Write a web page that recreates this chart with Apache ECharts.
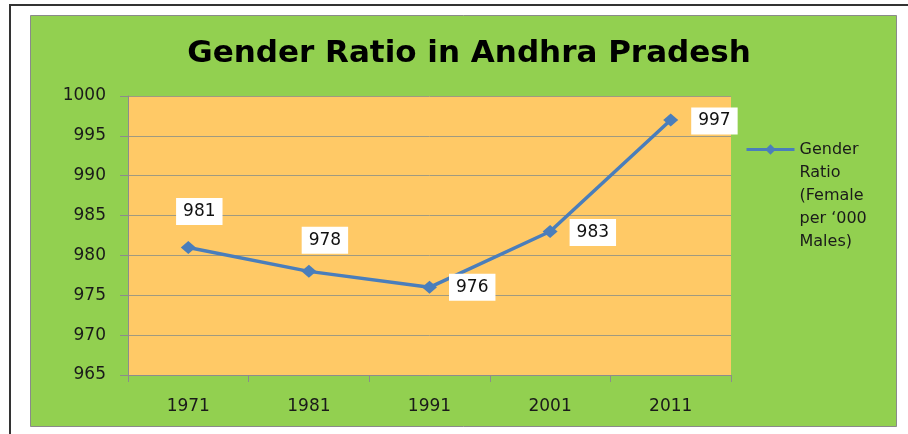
<!DOCTYPE html>
<html>
<head>
<meta charset="utf-8">
<script src="https://cdn.jsdelivr.net/npm/echarts@6/dist/echarts.min.js"></script>
<style>
  html, body { margin: 0; padding: 0; background: #fff; }
  #frame {
    position: absolute; left: 9px; top: 4px; width: 899px; height: 430px;
    border-left: 2px solid #333; border-top: 2px solid #333;
  }
  #chart { position: absolute; left: 0; top: 0; width: 908px; height: 434px; }
</style>
</head>
<body>
<div id="frame"></div>
<div id="chart"></div>
<script>
// census years and female per 1000 males
var years = ["1971", "1981", "1991", "2001", "2011"];
var ratio = [981, 978, 976, 983, 997];
var seriesName = "Gender Ratio (Female per \u2018000 Males)";

// where each value label sits relative to its point
var labelPos = ["top", "top", "right", "right", "right"];
var labelShift = [[11, -11], [16, -6], [7, 0], [7, 1], [8, 1]];

var chart = echarts.init(document.getElementById("chart"));

var points = ratio.map(function (v, i) {
  return {
    value: v,
    label: { position: labelPos[i], offset: labelShift[i] }
  };
});

var option = {
  backgroundColor: "transparent",
  animation: false,
  graphic: [{
    type: "rect",
    z: -10,
    shape: { x: 30.5, y: 15.5, width: 866, height: 411 },
    style: { fill: "#92D050", stroke: "#8a8a8a", lineWidth: 1 }
  }],
  title: {
    text: "Gender Ratio in Andhra Pradesh",
    left: 464,
    textAlign: "center",
    top: 33,
    textStyle: {
      fontFamily: "DejaVu Sans",
      fontWeight: "bold",
      fontSize: 31,
      color: "#000"
    }
  },
  legend: {
    left: 745,
    top: 46,
    padding: 0,
    orient: "vertical",
    itemWidth: 48,
    itemHeight: 13,
    itemGap: 0,
    lineStyle: { width: 3 },
    formatter: function () {
      // blank lines on top keep the icon level with the first line
      return "\n\n\n\nGender\nRatio\n(Female\nper \u2018000\nMales)";
    },
    textStyle: {
      fontFamily: "DejaVu Sans",
      fontSize: 16,
      lineHeight: 23,
      color: "#1a1a1a"
    },
    data: [seriesName]
  },
  grid: {
    left: 128,
    right: 177,
    top: 96,
    bottom: 59,
    show: true,
    backgroundColor: "#FFC966",
    borderWidth: 0
  },
  xAxis: {
    type: "category",
    data: years,
    boundaryGap: true,
    axisLine: { lineStyle: { color: "#8c8c8c", width: 1 } },
    axisTick: { show: true, length: 7, lineStyle: { color: "#8c8c8c" } },
    axisLabel: {
      margin: 23,
      fontFamily: "DejaVu Sans",
      fontSize: 17,
      color: "#1a1a1a"
    }
  },
  yAxis: {
    type: "value",
    min: 965,
    max: 1000,
    interval: 5,
    axisLine: { show: true, lineStyle: { color: "#8c8c8c", width: 1 } },
    axisTick: { show: true, length: 8, lineStyle: { color: "#8c8c8c" } },
    axisLabel: {
      margin: 22,
      fontFamily: "DejaVu Sans",
      fontSize: 17,
      color: "#1a1a1a",
      formatter: function (v) { return String(v); }
    },
    splitLine: { lineStyle: { color: "#a09a80", width: 1 } }
  },
  series: [{
    name: seriesName,
    type: "line",
    data: points,
    symbol: "diamond",
    symbolSize: [15, 13],
    lineStyle: { color: "#4A7EBB", width: 3.5 },
    itemStyle: { color: "#4A7EBB" },
    label: {
      show: true,
      fontFamily: "DejaVu Sans",
      fontSize: 17,
      color: "#111",
      backgroundColor: "#fff",
      padding: [5, 7]
    }
  }]
};

chart.setOption(option);
</script>
</body>
</html>
